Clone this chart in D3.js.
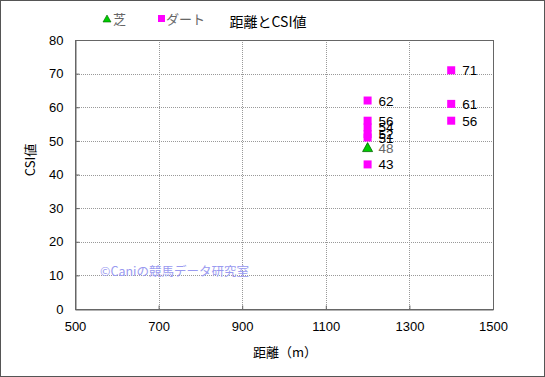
<!DOCTYPE html>
<html><head><meta charset="utf-8">
<script src="https://cdn.jsdelivr.net/npm/d3@7"></script>
<style>
html,body{margin:0;padding:0;background:#fff;}
svg{display:block;font-family:"Liberation Sans","Noto Sans CJK JP",sans-serif;}
</style></head>
<body>
<svg id="c" width="545" height="377"></svg>
<script>
const xTicks = [500, 700, 900, 1100, 1300, 1500];
const yTicks = [0, 10, 20, 30, 40, 50, 60, 70, 80];
const turfDist = [1200];
const turfCSI = [48];
const dirtDist = [1200, 1200, 1200, 1200, 1200, 1200, 1400, 1400, 1400];
const dirtCSI = [62, 56, 54, 52, 51, 43, 71, 61, 56];

const svg = d3.select("#c");
const W = 545, H = 377;
const m = {l: 75, r: 52, t: 40, b: 68};
const x = d3.scaleLinear().domain([500, 1500]).range([m.l, W - m.r]);
const y = d3.scaleLinear().domain([0, 80]).range([H - m.b, m.t]);

svg.append("rect").attr("x", 0.5).attr("y", 0.5).attr("width", W - 1).attr("height", H - 1)
  .attr("fill", "#fff").attr("stroke", "#555");

// gridlines
const g = svg.append("g");
g.selectAll(".vg").data(xTicks.slice(1, -1)).join("line")
  .attr("x1", d => Math.round(x(d)) + 0.5).attr("x2", d => Math.round(x(d)) + 0.5)
  .attr("y1", y(80)).attr("y2", y(0)).attr("stroke", "#999").attr("stroke-dasharray", "1,1");
g.selectAll(".hg").data(yTicks.slice(1, -1)).join("line")
  .attr("y1", d => Math.round(y(d)) + 0.5).attr("y2", d => Math.round(y(d)) + 0.5)
  .attr("x1", x(500)).attr("x2", x(1500)).attr("stroke", "#999").attr("stroke-dasharray", "1,1");

// axes
const xa = svg.append("g").attr("transform", `translate(0,${Math.round(y(0)) + 0.5})`)
  .call(d3.axisBottom(x).tickValues(xTicks).tickFormat(d3.format("d")).tickSizeInner(-4).tickSizeOuter(0).tickPadding(12));
const ya = svg.append("g").attr("transform", `translate(${Math.round(x(500)) + 0.5},0)`)
  .call(d3.axisLeft(y).tickValues(yTicks).tickFormat(d3.format("d")).tickSizeInner(-4).tickSizeOuter(0).tickPadding(12));
[xa, ya].forEach(a => {
  a.select(".domain").attr("stroke", "#666");
  a.selectAll(".tick line").attr("stroke", "#666");
  a.selectAll("text").attr("font-size", 13).attr("fill", "#000")
    .attr("font-family", "Liberation Sans, sans-serif");
});
// frame top/right
svg.append("rect").attr("x", Math.round(x(500)) + 0.5).attr("y", Math.round(y(80)) + 0.5)
  .attr("width", Math.round(x(1500)) - Math.round(x(500))).attr("height", Math.round(y(0)) - Math.round(y(80)))
  .attr("fill", "none").attr("stroke", "#666");

// watermark
svg.append("text").attr("x", 100).attr("y", 276).attr("font-size", 12.5).attr("fill", "#9a9af0")
  .attr("font-family", "Noto Sans CJK JP, sans-serif").text("©Caniの競馬データ研究室");

// dirt points
const dirt = dirtDist.map((d, i) => ({d, v: dirtCSI[i]}));
svg.selectAll(".dp").data(dirt).join("rect")
  .attr("x", d => x(d.d) - 4).attr("y", d => y(d.v) - 4).attr("width", 8).attr("height", 8)
  .attr("fill", "#ff00ff");
svg.selectAll(".dl").data(dirt).join("text")
  .attr("x", d => x(d.d) + 11).attr("y", d => y(d.v) + 5).attr("font-size", 13.5).attr("fill", "#000")
  .text(d => d.v);

// turf points
const turf = turfDist.map((d, i) => ({d, v: turfCSI[i]}));
svg.selectAll(".tp").data(turf).join("path")
  .attr("d", d => `M${x(d.d)},${y(d.v) - 5}L${x(d.d) + 5},${y(d.v) + 4}L${x(d.d) - 5},${y(d.v) + 4}Z`)
  .attr("fill", "#00cc00").attr("stroke", "#006600").attr("stroke-width", 0.8);
svg.selectAll(".tl").data(turf).join("text")
  .attr("x", d => x(d.d) + 11).attr("y", d => y(d.v) + 5).attr("font-size", 13.5).attr("fill", "#666")
  .text(d => d.v);

// title
svg.append("text").attr("x", 268).attr("y", 27).attr("text-anchor", "middle").attr("font-size", 14)
  .attr("font-family", "Noto Sans CJK JP, sans-serif").text("距離とCSI値");

// legend
svg.append("path").attr("d", "M107,15L111,22L103,22Z").attr("fill", "#00cc00").attr("stroke", "#006600").attr("stroke-width", 0.6);
svg.append("text").attr("x", 113).attr("y", 24).attr("font-size", 13).attr("fill", "#666")
  .attr("font-family", "Noto Sans CJK JP, sans-serif").text("芝");
svg.append("rect").attr("x", 158).attr("y", 15).attr("width", 7).attr("height", 7).attr("fill", "#ff00ff");
svg.append("text").attr("x", 166).attr("y", 24).attr("font-size", 13).attr("fill", "#666")
  .attr("font-family", "Noto Sans CJK JP, sans-serif").text("ダート");

// axis titles
svg.append("text").attr("x", 285).attr("y", 357).attr("text-anchor", "middle").attr("font-size", 13)
  .attr("font-family", "Noto Sans CJK JP, sans-serif").text("距離（m）");
svg.append("text").attr("transform", "translate(35,160) rotate(-90)").attr("text-anchor", "middle")
  .attr("font-size", 13).attr("font-family", "Noto Sans CJK JP, sans-serif").text("CSI値");
</script>
</body></html>
